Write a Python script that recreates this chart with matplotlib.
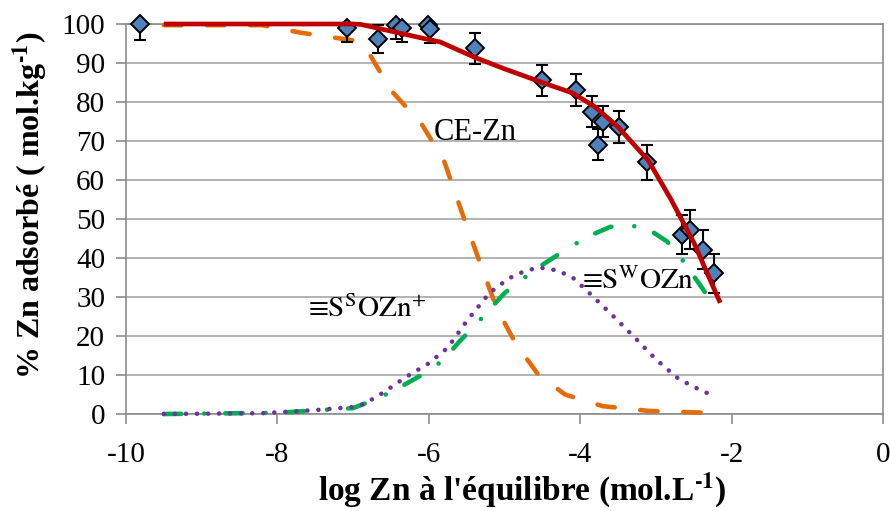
import matplotlib
matplotlib.use("Agg")
import matplotlib.pyplot as plt

# measured adsorption (diamonds with error bars)
log_zn_obs = [-9.82, -7.08, -6.67, -6.43, -6.35, -6.01, -5.98, -5.39, -4.50, -4.06,
              -3.84, -3.70, -3.49, -3.77, -3.12, -2.65, -2.55, -2.38, -2.23]
ads_obs = [100, 99.0, 96.2, 99.7, 99.0, 99.7, 98.7, 93.8, 85.6, 83.1,
           77.5, 74.9, 73.6, 69.0, 64.6, 45.9, 47.3, 42.1, 36.1]
err_obs = [4, 3.6, 3.6, 3.6, 3.6, 3.6, 3.6, 4, 4, 4,
           4, 4, 4, 4, 4.5, 5, 5, 5, 5]

# model total
log_zn_total = [-9.5, -7.0, -6.9, -6.0, -5.85, -5.4, -5.0, -4.5, -4.1, -3.8,
                -3.5, -3.1, -2.8, -2.5, -2.15]
ads_total = [100, 100, 99.9, 96.0, 95.4, 91.5, 88.5, 85.0, 82.3, 78.7,
             73.6, 65.0, 55.0, 44.0, 28.5]

# CE-Zn species
log_zn_ce = [-9.5, -8.2, -7.7, -7.0, -6.85, -6.5, -6.1, -5.8, -5.55, -5.3,
             -5.1, -4.85, -4.55, -4.2, -3.7, -3.1, -2.15]
ads_ce = [99.7, 99.7, 97.8, 95.8, 94.5, 83.0, 74.5, 65.0, 51.0, 37.5,
          27.0, 18.0, 10.0, 5.0, 2.0, 0.8, 0.2]

# weak site species
log_zn_sw = [-9.5, -8.0, -7.6, -7.0, -6.8, -6.5, -6.0, -5.8, -5.6, -5.4,
             -5.0, -4.6, -4.2, -3.9, -3.6, -3.3, -3.1, -2.85, -2.65, -2.45, -2.2]
ads_sw = [0, 0.3, 0.8, 1.5, 3.0, 5.6, 11.0, 14.0, 18.5, 22.5,
          31.0, 37.0, 42.0, 45.5, 48.0, 48.2, 47.4, 44.2, 39.5, 34.0, 27.0]

# strong site species
log_zn_ss = [-9.5, -8.2, -7.5, -7.0, -6.85, -6.6, -6.3, -6.0, -5.75, -5.5,
             -5.2, -4.95, -4.75, -4.55, -4.3, -4.1, -3.9, -3.6, -3.3, -3.0,
             -2.7, -2.4, -2.25]
ads_ss = [0, 0.2, 1.0, 1.8, 2.6, 5.5, 9.5, 13.0, 17.0, 23.8,
          31.0, 34.7, 36.5, 37.6, 36.8, 35.0, 31.4, 25.8, 20.0, 14.0,
          9.0, 6.0, 4.8]

x_ticks = [-10, -8, -6, -4, -2, 0]
y_ticks = list(range(0, 101, 10))

plt.rcParams["font.family"] = ["Liberation Serif", "DejaVu Serif"]
plt.rcParams["mathtext.fontset"] = "stix"

fig = plt.figure(figsize=(8.9, 5.11), dpi=100)
ax = fig.add_axes([126 / 890, 97 / 511, 757 / 890, 390 / 511])

ax.plot(log_zn_ce, ads_ce, color="#E46C0A", lw=3.3, dashes=(3.8, 5.6),
        dash_capstyle="round", clip_on=False, zorder=3)
ax.plot(log_zn_sw, ads_sw, color="#00B050", lw=3.3, dashes=(3.8, 5.0, 0.01, 4.6),
        dash_capstyle="round", clip_on=False, zorder=3)
ax.plot(log_zn_ss, ads_ss, color="#7030A0", lw=3.3, dashes=(0.01, 2.4),
        dash_capstyle="round", clip_on=False, zorder=3)

ax.errorbar(log_zn_obs, ads_obs, yerr=err_obs, fmt="none", ecolor="black",
            elinewidth=1.5, capsize=4.5, capthick=1.5, zorder=4)
ax.plot(log_zn_obs, ads_obs, linestyle="none", marker="D", markersize=9.5,
        markerfacecolor="#4F81BD", markeredgecolor="black", markeredgewidth=1.4,
        clip_on=False, zorder=5)

ax.plot(log_zn_total, ads_total, color="#C00000", lw=3.4, solid_capstyle="butt",
        clip_on=False, zorder=6)

ax.text(-5.94, 72.3, "CE-Zn", fontsize=22, va="center", ha="left", zorder=7)
ax.text(-7.6, 27.0, "\u2261S$^{\\mathrm{S}}$OZn$^{+}$", fontsize=21,
        family="STIXGeneral", va="center", ha="left", zorder=7)
ax.text(-3.98, 34.0, "\u2261S$^{\\mathrm{W}}$OZn", fontsize=21,
        family="STIXGeneral", va="center", ha="left", zorder=7)

ax.set_xlim(-10, 0)
ax.set_ylim(0, 100)
ax.set_xticks(x_ticks)
ax.set_yticks(y_ticks)
ax.set_xticklabels([str(v) for v in x_ticks])
ax.tick_params(axis="both", direction="out", length=7, width=1.2,
               color="#8C8C8C", labelsize=21, pad=8)
ax.tick_params(axis="x", pad=13)

ax.grid(True, axis="y", color="#A6A6A6", lw=1.2)
ax.set_axisbelow(True)
for spine in ax.spines.values():
    spine.set_color("#8C8C8C")
    spine.set_linewidth(1.2)

ax.set_xlabel("log Zn à l'équilibre (mol.L$^{\\mathbf{\u20101}}$)", fontsize=24,
              fontweight="bold")
ax.set_ylabel("% Zn adsorbé ( mol.kg$^{\\mathbf{\u20101}}$)", fontsize=23,
              fontweight="bold")
ax.xaxis.set_label_coords(0.523, -0.145)
ax.yaxis.set_label_coords(-0.10, 0.535)

fig.savefig("out.png", dpi=100)
